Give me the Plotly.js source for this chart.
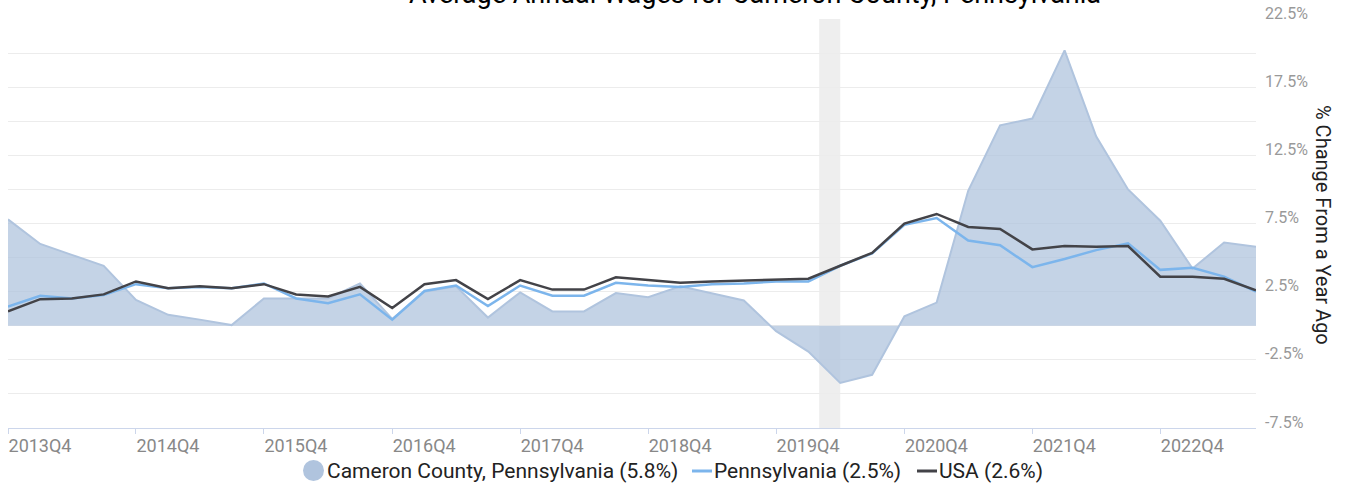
<!DOCTYPE html>
<html>
<head>
<meta charset="utf-8">
<script src="https://cdn.plot.ly/plotly-3.0.1.min.js"></script>
<style>
html,body{margin:0;padding:0;background:#fff;}
#chart{width:1349px;height:488px;}
</style>
</head>
<body>
<div id="chart"></div>
<script>
// Quarter start dates, 2013Q4 .. 2023Q3
var quarters = [
 '2013-10-01','2014-01-01','2014-04-01','2014-07-01','2014-10-01',
 '2015-01-01','2015-04-01','2015-07-01','2015-10-01',
 '2016-01-01','2016-04-01','2016-07-01','2016-10-01',
 '2017-01-01','2017-04-01','2017-07-01','2017-10-01',
 '2018-01-01','2018-04-01','2018-07-01','2018-10-01',
 '2019-01-01','2019-04-01','2019-07-01','2019-10-01',
 '2020-01-01','2020-04-01','2020-07-01','2020-10-01',
 '2021-01-01','2021-04-01','2021-07-01','2021-10-01',
 '2022-01-01','2022-04-01','2022-07-01','2022-10-01',
 '2023-01-01','2023-04-01','2023-07-01'
];

// % change from a year ago
var cameron = [7.8, 6.0, 5.2, 4.4, 1.9, 0.8, 0.45, 0.05, 2.0, 2.0, 2.0, 3.1, 0.5, 2.5, 2.9, 0.6, 2.45, 1.05, 1.05, 2.4,
               2.1, 2.9, 2.4, 1.85, -0.4, -1.9, -4.2, -3.6, 0.7, 1.7, 9.9, 14.7, 15.2, 20.2, 13.9, 10.0, 7.7, 4.2, 6.1, 5.8];
var pennsylvania = [1.4, 2.2, 2.0, 2.25, 3.05, 2.75, 2.85, 2.75, 3.1, 2.0, 1.65, 2.3, 0.45, 2.55, 2.95, 1.45, 2.95, 2.2, 2.2, 3.15,
                    2.95, 2.85, 3.05, 3.1, 3.25, 3.25, 4.4, 5.3, 7.4, 7.9, 6.25, 5.9, 4.3, 4.9, 5.55, 6.05, 4.1, 4.25, 3.6, 2.5];
var usa = [1.05, 1.95, 2.0, 2.3, 3.25, 2.75, 2.9, 2.75, 3.05, 2.3, 2.15, 2.85, 1.3, 3.05, 3.35, 1.95, 3.35, 2.65, 2.65, 3.55,
           3.35, 3.15, 3.25, 3.3, 3.4, 3.45, 4.4, 5.35, 7.5, 8.2, 7.25, 7.1, 5.6, 5.85, 5.8, 5.85, 3.6, 3.6, 3.45, 2.6];

var seriesNames = ['Cameron County, Pennsylvania (5.8%)', 'Pennsylvania (2.5%)', 'USA (2.6%)'];

var xTickVals = ['2013-10-01','2014-10-01','2015-10-01','2016-10-01','2017-10-01','2018-10-01','2019-10-01','2020-10-01','2021-10-01','2022-10-01'];
var xTickText = ['2013Q4','2014Q4','2015Q4','2016Q4','2017Q4','2018Q4','2019Q4','2020Q4','2021Q4','2022Q4'];

var yTickVals = [-7.5,-5,-2.5,0,2.5,5,7.5,10,12.5,15,17.5,20,22.5];
var yTickText = ['-7.5%','','-2.5%','','2.5%','','7.5%','','12.5%','','17.5%','','22.5%'];

var recession = ['2020-02-01','2020-04-01'];

var traces = [
  {x: quarters, y: cameron, type: 'scatter', mode: 'lines', fill: 'tozeroy',
   line: {color: '#b0c4de', width: 2}, fillcolor: 'rgba(176,196,222,0.75)', name: seriesNames[0], showlegend: false},
  {x: quarters, y: pennsylvania, type: 'scatter', mode: 'lines',
   line: {color: '#7cb5ec', width: 2.5}, name: seriesNames[1], showlegend: false},
  {x: quarters, y: usa, type: 'scatter', mode: 'lines',
   line: {color: '#434348', width: 2.5}, name: seriesNames[2], showlegend: false}
];

// plot area in pixels: left 8, right 1256, top 19, bottom 428
var L = 8, R = 1256, T = 19, B = 428;
function px(x){ return (x - L) / (R - L); }
function py(y){ return (B - y) / (B - T); }

var legendY = 471;
var FONT = 'Roboto, sans-serif';
var shapes = [
  {type: 'rect', xref: 'x', yref: 'paper', x0: recession[0], x1: recession[1], y0: 0, y1: 1,
   fillcolor: '#eeeeee', line: {width: 0}, layer: 'below'},
  {type: 'circle', xref: 'paper', yref: 'paper', x0: px(303), x1: px(324), y0: py(481), y1: py(460),
   fillcolor: '#b0c4de', line: {width: 0}},
  {type: 'line', xref: 'paper', yref: 'paper', x0: px(692), x1: px(712), y0: py(legendY), y1: py(legendY),
   line: {color: '#7cb5ec', width: 3}},
  {type: 'line', xref: 'paper', yref: 'paper', x0: px(917), x1: px(937), y0: py(legendY), y1: py(legendY),
   line: {color: '#434348', width: 3}}
];

var annotations = [
  {text: 'Average Annual Wages for Cameron County, Pennsylvania', xref: 'paper', yref: 'paper',
   x: px(755), y: py(-6), xanchor: 'center', yanchor: 'middle', showarrow: false,
   font: {family: FONT, size: 27, color: '#000'}},
  {text: '% Change From a Year Ago', xref: 'paper', yref: 'paper', x: px(1323), y: py(225),
   xanchor: 'center', yanchor: 'middle', textangle: 90, showarrow: false,
   font: {family: FONT, size: 20, color: '#222'}},
  {text: seriesNames[0], xref: 'paper', yref: 'paper', x: px(325), y: py(legendY), xanchor: 'left', yanchor: 'middle',
   showarrow: false, font: {family: FONT, size: 21, color: '#222'}},
  {text: seriesNames[1], xref: 'paper', yref: 'paper', x: px(712), y: py(legendY), xanchor: 'left', yanchor: 'middle',
   showarrow: false, font: {family: FONT, size: 21, color: '#222'}},
  {text: seriesNames[2], xref: 'paper', yref: 'paper', x: px(937), y: py(legendY), xanchor: 'left', yanchor: 'middle',
   showarrow: false, font: {family: FONT, size: 21, color: '#222'}}
];

var layout = {
  width: 1349, height: 488,
  margin: {l: L, r: 1349 - R, t: T, b: 488 - B, pad: 0},
  paper_bgcolor: '#fff', plot_bgcolor: '#fff',
  showlegend: false,
  font: {family: FONT},
  xaxis: {
    type: 'date', range: ['2013-10-01', '2023-07-01'],
    tickmode: 'array', tickvals: xTickVals, ticktext: xTickText,
    showgrid: false, zeroline: false,
    showline: true, linecolor: '#ccd6eb', linewidth: 1,
    ticks: 'outside', ticklen: 5, tickcolor: '#ccd6eb', tickwidth: 1,
    ticklabelshift: 32, ticklabelstandoff: -4,
    tickfont: {family: FONT, size: 18, color: '#888'},
    fixedrange: true
  },
  yaxis: {
    side: 'right', range: [-7.5, 22.5],
    tickmode: 'array', tickvals: yTickVals, ticktext: yTickText,
    showgrid: true, gridcolor: '#ececec', gridwidth: 1,
    zeroline: false, showline: false, ticks: '',
    ticklabelshift: -6, ticklabelstandoff: 8,
    tickfont: {family: FONT, size: 16, color: '#999'},
    fixedrange: true
  },
  shapes: shapes,
  annotations: annotations
};

Plotly.newPlot('chart', traces, layout, {displayModeBar: false, staticPlot: true});
</script>
</body>
</html>
